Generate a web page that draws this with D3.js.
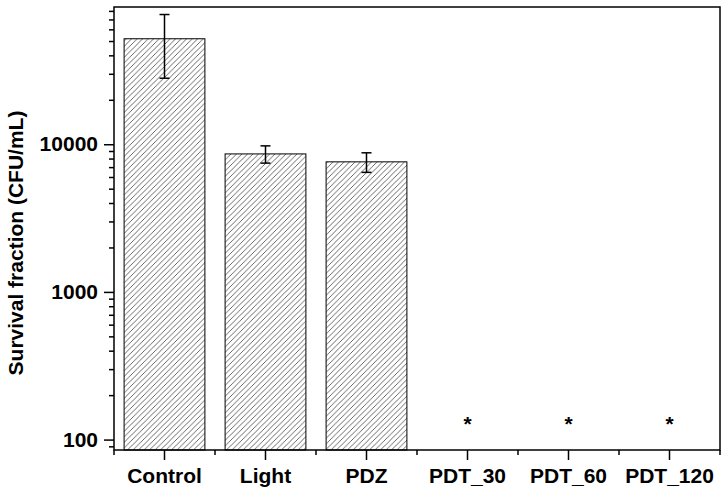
<!DOCTYPE html>
<html><head><meta charset="utf-8">
<script src="https://cdn.jsdelivr.net/npm/d3@7"></script>
<style>body{margin:0;background:#fff}svg{display:block}text{font-family:"Liberation Sans",Arial,sans-serif;font-weight:bold}</style>
</head><body><svg id="c" width="728" height="494"></svg>
<script>
const categories = ["Control","Light","PDZ","PDT_30","PDT_60","PDT_120"];
const values = [51800, 8600, 7600, null, null, null];
const errors = [23800, 1150, 1150, null, null, null];
const marks = ["", "", "", "*", "*", "*"];
const yTicks = [100, 1000, 10000];
const yDomain = [85, 85000];

const FS = 21;
const svg = d3.select("#c");
const m = {l:114, t:7, r:8, b:44};
const W = 728, H = 494;
const x = d3.scaleBand().domain(categories).range([m.l, W-m.r]).paddingInner(0.2).paddingOuter(0.1);
const y = d3.scaleLog().domain(yDomain).range([H-m.b, m.t]);

const defs = svg.append("defs");
const pat = defs.append("pattern").attr("id","hatch").attr("patternUnits","userSpaceOnUse").attr("width",5.5).attr("height",5.5);
pat.append("rect").attr("width",5.5).attr("height",5.5).attr("fill","#fff");
pat.append("path").attr("d","M0,5.5 L5.5,0 M-1,1 L1,-1 M4.5,6.5 L6.5,4.5").attr("stroke","#444").attr("stroke-width",0.8);

const data = categories.map((c,i)=>({c, v:values[i], e:errors[i], m:marks[i]}));

// bars
svg.append("g").selectAll("rect").data(data.filter(d=>d.v!=null)).join("rect")
  .attr("x", d=>x(d.c)).attr("width", x.bandwidth())
  .attr("y", d=>y(d.v)).attr("height", d=>y(yDomain[0])-y(d.v))
  .attr("fill","url(#hatch)").attr("stroke","#000").attr("stroke-width",1);

// error bars
const eg = svg.append("g").attr("stroke","#000").attr("stroke-width",1.5);
data.filter(d=>d.e!=null).forEach(d=>{
  const cx = x(d.c)+x.bandwidth()/2;
  eg.append("line").attr("x1",cx).attr("x2",cx).attr("y1",y(d.v+d.e)).attr("y2",y(d.v-d.e));
  eg.append("line").attr("x1",cx-5).attr("x2",cx+5).attr("y1",y(d.v+d.e)).attr("y2",y(d.v+d.e));
  eg.append("line").attr("x1",cx-5).attr("x2",cx+5).attr("y1",y(d.v-d.e)).attr("y2",y(d.v-d.e));
});

// asterisks
svg.append("g").selectAll("text").data(data.filter(d=>d.m)).join("text")
  .attr("x", d=>x(d.c)+x.bandwidth()/2).attr("y", y(yTicks[0])-9)
  .attr("text-anchor","middle").attr("font-size",FS).text(d=>d.m);

// frame
svg.append("rect").attr("x",m.l).attr("y",m.t).attr("width",W-m.r-m.l).attr("height",H-m.b-m.t)
  .attr("fill","none").attr("stroke","#000").attr("stroke-width",1.5);

// y axis
const minor = [];
for (let p=1;p<=4;p++) for (let k=2;k<=9;k++){const v=k*Math.pow(10,p); if(v>=yDomain[0]&&v<=yDomain[1]) minor.push(v);}
const yAx = svg.append("g").attr("transform",`translate(${m.l},0)`);
yAx.call(d3.axisLeft(y).tickValues(yTicks).tickFormat(d3.format("d")).tickSize(10).tickPadding(6));
yAx.append("g").call(d3.axisLeft(y).tickValues(minor).tickFormat("").tickSize(5));
yAx.selectAll(".domain").remove();
yAx.selectAll("line").attr("stroke","#000").attr("stroke-width",1.5);
yAx.selectAll("text").attr("font-size",FS).attr("fill","#000").style("font-family","Liberation Sans, Arial, sans-serif").style("font-weight","bold");

// x axis
const xAx = svg.append("g").attr("transform",`translate(0,${H-m.b})`);
xAx.call(d3.axisBottom(x).tickSize(10).tickPadding(8));
xAx.selectAll(".domain").remove();
xAx.selectAll("line").attr("stroke","#000").attr("stroke-width",1.5);
xAx.selectAll("text").attr("font-size",FS).attr("fill","#000").style("font-family","Liberation Sans, Arial, sans-serif").style("font-weight","bold");
const step = x.step();
const bounds = d3.range(categories.length+1).map(i=>x(categories[0]) - (step - x.bandwidth())/2 + i*step);
xAx.append("g").selectAll("line").data(bounds).join("line")
  .attr("x1",d=>d).attr("x2",d=>d).attr("y1",0).attr("y2",5).attr("stroke","#000").attr("stroke-width",1.5);

// y title
svg.append("text").attr("transform",`translate(23,243) rotate(-90)`).attr("text-anchor","middle")
  .attr("font-size",FS).text("Survival fraction (CFU/mL)");
</script></body></html>
